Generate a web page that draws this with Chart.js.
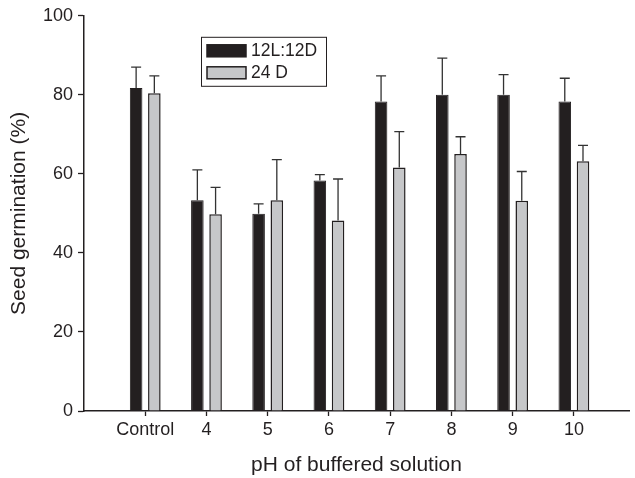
<!DOCTYPE html>
<html>
<head>
<meta charset="utf-8">
<script src="https://cdn.jsdelivr.net/npm/chart.js@4.4.1/dist/chart.umd.min.js"></script>
<style>
  html, body { margin: 0; padding: 0; background: #fff; }
  #wrap { width: 635px; height: 478px; }
</style>
</head>
<body>
<div id="wrap"><canvas id="chart" width="635" height="478"></canvas></div>
<script>
const categories = ['Control', '4', '5', '6', '7', '8', '9', '10'];
const seriesNames = ['12L:12D', '24 D'];
const lightDark = [81.7, 53.3, 49.9, 58.3, 78.3, 80.0, 80.0, 78.3];
const lightDarkErr = [5.3, 7.7, 2.5, 1.5, 6.5, 9.3, 5.1, 5.9];
const darkOnly = [80.4, 49.8, 53.3, 48.2, 61.6, 65.0, 53.2, 63.2];
const darkOnlyErr = [4.4, 6.8, 10.3, 10.5, 9.1, 4.4, 7.4, 4.0];
const yTicks = [0, 20, 40, 60, 80, 100];

const ink = '#231f20';
const grey = '#c6c7c9';
const font = "'Liberation Sans', Arial, sans-serif";

const toPoints = vals => vals.map((v, i) => ({ x: i + 1, y: v }));

// upper error bars only, like the original figure
const errorBars = {
    id: 'errorBars',
    afterDatasetsDraw(chart) {
        const { ctx } = chart;
        const y = chart.scales.y;
        chart.data.datasets.forEach((ds, di) => {
            const meta = chart.getDatasetMeta(di);
            meta.data.forEach((bar, i) => {
                const top = y.getPixelForValue(ds.data[i].y + ds.errors[i]);
                ctx.save();
                ctx.strokeStyle = '#333';
                ctx.lineWidth = 1.3;
                ctx.beginPath();
                ctx.moveTo(bar.x, bar.y);
                ctx.lineTo(bar.x, top);
                ctx.moveTo(bar.x - 5, top);
                ctx.lineTo(bar.x + 5, top);
                ctx.stroke();
                ctx.restore();
            });
        });
    }
};

const boxLegend = {
    id: 'boxLegend',
    afterDraw(chart) {
        const { ctx, chartArea } = chart;
        const left = chartArea.left + 117;
        const top = chartArea.top + 21;
        ctx.save();
        ctx.strokeStyle = ink;
        ctx.lineWidth = 1;
        ctx.strokeRect(left + 0.5, top + 0.5, 125, 49);
        ctx.font = '17.5px ' + font;
        ctx.fillStyle = ink;
        ctx.textBaseline = 'middle';
        chart.data.datasets.forEach((ds, i) => {
            const sy = top + 8 + i * 22;
            ctx.fillStyle = ds.backgroundColor;
            ctx.fillRect(left + 6, sy, 39, 12);
            ctx.strokeStyle = ink;
            ctx.lineWidth = 1.5;
            ctx.strokeRect(left + 6, sy, 39, 12);
            ctx.fillStyle = ink;
            ctx.fillText(seriesNames[i], left + 50, sy + 6.5);
        });
        ctx.restore();
    }
};

new Chart(document.getElementById('chart'), {
    type: 'bar',
    data: {
        datasets: [
            {
                label: seriesNames[0],
                data: toPoints(lightDark),
                errors: lightDarkErr,
                backgroundColor: ink,
                borderColor: ink,
                borderWidth: 1
            },
            {
                label: seriesNames[1],
                data: toPoints(darkOnly),
                errors: darkOnlyErr,
                backgroundColor: grey,
                borderColor: ink,
                borderWidth: 1.5
            }
        ]
    },
    options: {
        responsive: false,
        animation: false,
        categoryPercentage: 0.595,
        barPercentage: 0.69,
        layout: { padding: { top: 15, right: 6 } },
        plugins: {
            legend: { display: false },
            tooltip: { enabled: false }
        },
        scales: {
            x: {
                type: 'linear',
                min: 0,
                max: 8.9,
                offset: false,
                afterBuildTicks(scale) {
                    scale.ticks = categories.map((c, i) => ({ value: i + 1 }));
                },
                afterFit(scale) { scale.height = 67; },
                border: { color: ink, width: 1.5 },
                grid: { offset: false, drawOnChartArea: false, tickLength: 5, color: ink, tickWidth: 1.3 },
                ticks: {
                    padding: 3,
                    color: ink,
                    font: { family: font, size: 18 },
                    callback: v => categories[v - 1] ?? ''
                },
                title: {
                    display: true,
                    text: 'pH of buffered solution',
                    color: ink,
                    font: { family: font, size: 21 },
                    padding: { bottom: 0 }
                }
            },
            y: {
                min: 0,
                max: 100,
                afterBuildTicks(scale) {
                    scale.ticks = yTicks.map(v => ({ value: v }));
                },
                afterFit(scale) { scale.width = 84; },
                border: { color: ink, width: 1.5 },
                grid: { drawOnChartArea: false, tickLength: 6, color: ink, tickWidth: 1.3 },
                ticks: {
                    padding: 5,
                    color: ink,
                    font: { family: font, size: 18 }
                },
                title: {
                    display: true,
                    text: 'Seed germination (%)',
                    color: ink,
                    font: { family: font, size: 21 },
                    padding: { top: 7 }
                }
            }
        }
    },
    plugins: [errorBars, boxLegend]
});
</script>
</body>
</html>
